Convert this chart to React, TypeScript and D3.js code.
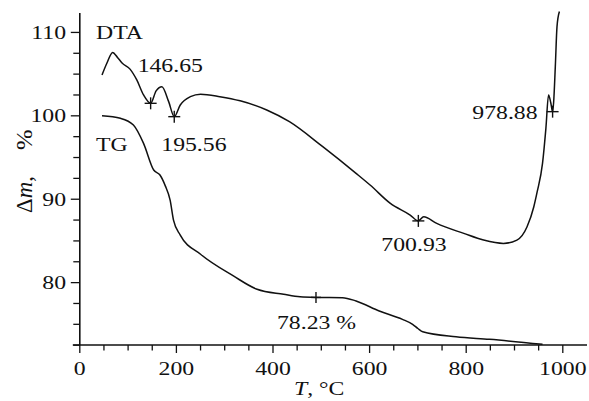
import React from "react";
import * as d3 from "d3";

const dtaT = [46, 56, 68, 78, 88, 104, 118, 132, 146.65, 158, 170, 184, 195.56, 208, 229, 250, 290, 332, 387, 434, 503, 572, 601, 643, 684, 700.93, 712, 739, 795, 836, 877, 905, 926, 940, 947, 958, 965, 970.5, 975, 978.88, 981, 984.5, 988, 993];
const dtaV = [104.9, 106.3, 107.6, 107.0, 106.3, 105.6, 104.3, 102.5, 101.5, 103.0, 103.5, 101.7, 99.9, 101.3, 102.3, 102.6, 102.3, 101.8, 100.7, 99.3, 96.3, 93.1, 91.7, 89.5, 88.1, 87.4, 87.9, 87.1, 85.9, 85.1, 84.7, 85.1, 86.7, 89.1, 90.9, 94.3, 98.5, 102.5, 101.6, 100.5, 101.6, 105.9, 110.7, 112.5];

const tgT = [46, 84, 111, 132, 153, 166, 177, 187, 194, 208, 250, 318, 367, 422, 456, 489, 544, 572, 620, 668, 689, 700, 710, 779, 848, 958];
const tgV = [100, 99.7, 98.9, 96.7, 93.5, 92.9, 91.6, 89.9, 87.5, 85.7, 83.4, 80.8, 79.2, 78.6, 78.3, 78.23, 78.2, 77.8, 76.6, 75.6, 75.0, 74.5, 74.1, 73.5, 73.2, 72.6];

const xTickValues = d3.range(0, 1001, 50);
const xLabelValues = [0, 200, 400, 600, 800, 1000];
const yTickValues = d3.range(72.5, 112.4, 2.5);
const yLabelValues = [80, 90, 100, 110];

const dtaMarks = [146.65, 195.56, 700.93, 978.88];
const tgMarks = [489];

const FONT = "'Liberation Serif', 'Times New Roman', serif";
const SX = 1.25;
const FS = 19;

export default function App() {
  const x = d3.scaleLinear().domain([0, 1000]).range([79.8, 562.8]);
  const y = d3.scaleLinear().domain([72.52, 112.33]).range([345, 13]);

  const dtaData = dtaT.map((t, i) => [t, dtaV[i]] as [number, number]);
  const tgData = tgT.map((t, i) => [t, tgV[i]] as [number, number]);
  const line = d3
    .line<[number, number]>()
    .x((d) => x(d[0]))
    .y((d) => y(d[1]))
    .curve(d3.curveMonotoneX);

  const valAt = (arr: [number, number][], t: number) => {
    const p = arr.find((d) => d[0] === t);
    return p ? p[1] : 0;
  };

  const txt = (
    key: string,
    px: number,
    py: number,
    content: React.ReactNode,
    anchor: string = "start"
  ) => (
    <text
      key={key}
      transform={`translate(${px},${py}) scale(${SX},1)`}
      textAnchor={anchor}
      fontFamily={FONT}
      fontSize={FS}
      fill="#111"
    >
      {content}
    </text>
  );

  const cross = (key: string, cx: number, cy: number, w = 12, h = 12) => (
    <g key={key} stroke="#111" strokeWidth={1.4}>
      <line x1={cx - w / 2} x2={cx + w / 2} y1={cy} y2={cy} />
      <line x1={cx} x2={cx} y1={cy - h / 2} y2={cy + h / 2} />
    </g>
  );

  const x0 = x(0);
  const yBottom = y(72.52);

  return (
    <svg width={589} height={401} style={{ position: "absolute", left: 0, top: 0, background: "#fff" }}>
      <rect width={589} height={401} fill="#fff" />
      {/* axes */}
      <line x1={x0} x2={x0} y1={13} y2={yBottom} stroke="#111" strokeWidth={1.6} />
      <line x1={x0 - 7} x2={587} y1={yBottom} y2={yBottom} stroke="#111" strokeWidth={1.6} />
      {xTickValues.map((v) => {
        const major = xLabelValues.includes(v);
        return (
          <line key={"xt" + v} x1={x(v)} x2={x(v)} y1={yBottom} y2={yBottom + (major ? 8 : 5.5)} stroke="#111" strokeWidth={1.3} />
        );
      })}
      {yTickValues.map((v) => {
        const major = yLabelValues.includes(v);
        return (
          <line key={"yt" + v} x1={x0 - (major ? 9 : 6.5)} x2={x0} y1={y(v)} y2={y(v)} stroke="#111" strokeWidth={1.3} />
        );
      })}
      {xLabelValues.map((v) => txt("xl" + v, x(v), 375, String(v), "middle"))}
      {yLabelValues.map((v) => txt("yl" + v, 66, y(v) + 6.5, String(v), "end"))}

      {/* axis titles */}
      {txt("xt", 294, 395, <>
        <tspan fontStyle="italic">T</tspan>, °C
      </>)}
      <text
        transform={`translate(32,213) rotate(-90) scale(1.2,${SX})`}
        fontFamily={FONT}
        fontSize={FS}
        fill="#111"
      >
        Δ<tspan fontStyle="italic">m</tspan>,
      </text>
      <text
        transform={`translate(32,150) rotate(-90) scale(1.3,${SX})`}
        fontFamily={FONT}
        fontSize={FS}
        fill="#111"
      >
        %
      </text>

      {/* curves */}
      <path d={line(dtaData) || ""} fill="none" stroke="#111" strokeWidth={1.5} />
      <path d={line(tgData) || ""} fill="none" stroke="#111" strokeWidth={1.5} />

      {dtaMarks.map((t) => cross("dm" + t, x(t), y(valAt(dtaData, t))))}
      {tgMarks.map((t) => cross("tm" + t, x(t), y(valAt(tgData, t)), 10, 11))}

      {/* labels */}
      {txt("dta", 96, 38.5, "DTA")}
      {txt("tg", 96, 151, "TG")}
      {txt("l1", x(146.65) - 13, 72, "146.65")}
      {txt("l2", x(195.56) - 13, 151, "195.56")}
      {txt("l3", x(700.93) - 37, 251, "700.93")}
      {txt("l4", x(978.88) - 15, 119, "978.88", "end")}
      {txt("l5", x(489) - 39, 329, "78.23 %")}
    </svg>
  );
}
